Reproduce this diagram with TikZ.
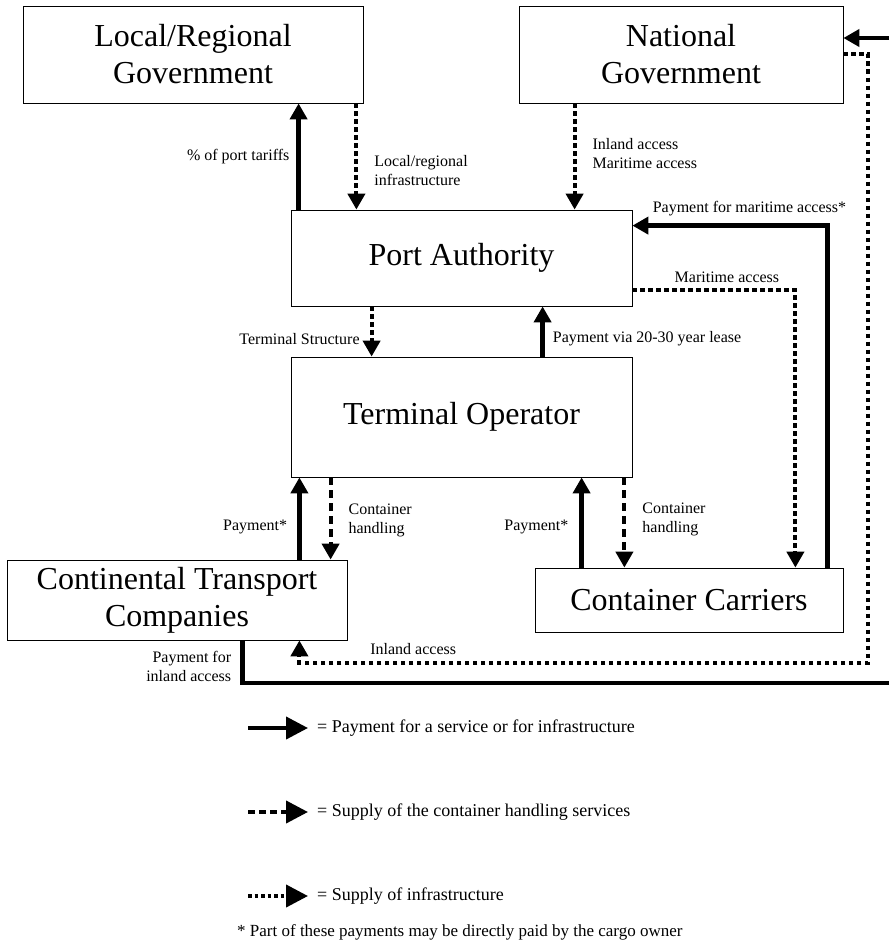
\documentclass[tikz,border=0pt]{standalone}
\usepackage{fontspec}
\setmainfont{Liberation Serif}
\usetikzlibrary{arrows.meta}

\begin{document}
\begin{tikzpicture}[
    x=1pt, y=-1pt,
    actor/.style={rectangle, draw, line width=0.8pt, inner sep=0pt,
                  align=center, font=\fontsize{32}{37}\selectfont},
    lbl/.style={font=\fontsize{16}{19}\selectfont, inner sep=0pt, align=left},
    legtext/.style={font=\fontsize{18}{21}\selectfont, anchor=west, inner sep=0pt},
    pay/.style={line width=4.5pt, -{Triangle[width=17pt,length=16pt]}},
    serv/.style={line width=4pt, dash pattern=on 8pt off 5pt,
                 -{Triangle[width=17pt,length=16pt]}},
    infra/.style={line width=4pt, dash pattern=on 4.5pt off 3.5pt,
                  -{Triangle[width=17pt,length=16pt]}},
    legarrow/.style={line width=4pt, -{Triangle[width=22pt,length=22pt]}},
]
\useasboundingbox (0,0) rectangle (889,950);

% The six actors
\node[actor, minimum width=340pt, minimum height=97pt] (lrg) at (193,54.5)
    {Local/Regional\\Government};
\node[actor, minimum width=324pt, minimum height=97pt] (natg) at (681,54.5)
    {National\\Government};
\node[actor, minimum width=341pt, minimum height=96pt] (pa) at (461.5,258)
    {Port Authority};
\node[actor, minimum width=341pt, minimum height=120pt] (to) at (461.5,417)
    {Terminal Operator};
\node[actor, minimum width=340pt, minimum height=80pt] (ctc) at (177,600)
    {Continental Transport\\Companies};
\node[actor, minimum width=308pt, minimum height=64pt] (cc) at (689,600)
    {Container Carriers};

% Governments and port authority
\draw[pay] ([xshift=8pt]pa.north west) coordinate (tariff) -- (tariff |- lrg.south)
    node[lbl, pos=0.5, left=7pt] (ltariff) {\% of port tariffs};
\draw[infra] ([xshift=-7pt]lrg.south east) coordinate (lrinf) -- (lrinf |- pa.north)
    node[lbl, pos=0.63, right=16pt] (llrinf) {Local/regional\\infrastructure};
\draw[infra] ([xshift=56pt]natg.south west) coordinate (natinf) -- (natinf |- pa.north)
    node[lbl, pos=0.47, right=16pt] (lnatinf) {Inland access\\Maritime access};

% Carriers and port authority
\draw[pay] ([xshift=-16pt]cc.north east) |- ([yshift=-16pt]pa.north east)
    node[lbl, pos=0.7, above=7pt] (lmarpay) {Payment for maritime access*};
\draw[infra] ([yshift=16pt]pa.south east) -| ([xshift=-48pt]cc.north east)
    node[lbl, pos=0.29, above=6pt] (lmarinf) {Maritime access};

% Port authority and terminal operator
\draw[infra] ([xshift=81pt]pa.south west) coordinate (tstr) -- (tstr |- to.north)
    node[lbl, pos=0.65, left=10pt] (ltstr) {Terminal Structure};
\draw[pay] ([xshift=252pt]to.north west) coordinate (lease) -- (lease |- pa.south)
    node[lbl, pos=0.35, right=8pt] (llease) {Payment via 20-30 year lease};

% Terminal operator and its customers
\draw[pay] ([xshift=-48pt]ctc.north east) coordinate (ctcpay) -- (ctcpay |- to.south)
    node[lbl, pos=0.4, left=10pt] (lctcpay) {Payment*};
\draw[serv] ([xshift=40pt]to.south west) coordinate (ctchand) -- (ctchand |- ctc.north)
    node[lbl, pos=0.52, right=16pt] (lctchand) {Container\\handling};
\draw[pay] ([xshift=47pt]cc.north west) coordinate (ccpay) -- (ccpay |- to.south)
    node[lbl, pos=0.45, left=11pt] (lccpay) {Payment*};
\draw[serv] ([xshift=-8pt]to.south east) coordinate (cchand) -- (cchand |- cc.north)
    node[lbl, pos=0.47, right=16pt] (lcchand) {Container\\handling};

% Inland access round the right side
\draw[infra] (natg.east) -- ++(25,0) -- ++(0,608) -| ([xshift=-48pt]ctc.south east)
    node[lbl, pos=0.4, above=6pt] (linland) {Inland access};
\coordinate (inpayR) at (889,683);
\coordinate (inpayT) at (889,38);
\draw[pay, arrows=-] ([xshift=-105pt]ctc.south east) |- (inpayR)
    node[lbl, align=right, pos=0.31, left=9pt] (linpay) {Payment for\\inland access};
\draw[pay] (inpayT) -- (inpayT -| natg.east);

% Legend
\node[legtext] (legpay) at (317,728) {= Payment for a service or for infrastructure};
\node[legtext] (legserv) at (317,812) {= Supply of the container handling services};
\node[legtext] (leginfra) at (317,896) {= Supply of infrastructure};
\draw[legarrow] ([xshift=-69pt]legpay.west) -- ([xshift=-9pt]legpay.west);
\draw[legarrow, dash pattern=on 7pt off 4pt] ([xshift=-69pt]legserv.west) -- ([xshift=-9pt]legserv.west);
\draw[legarrow, dash pattern=on 3.5pt off 3pt] ([xshift=-69pt]leginfra.west) -- ([xshift=-9pt]leginfra.west);
\node[anchor=west, inner sep=0pt, font=\fontsize{17}{20}\selectfont] (foot) at (237,932)
    {* Part of these payments may be directly paid by the cargo owner};

\end{tikzpicture}
\end{document}
